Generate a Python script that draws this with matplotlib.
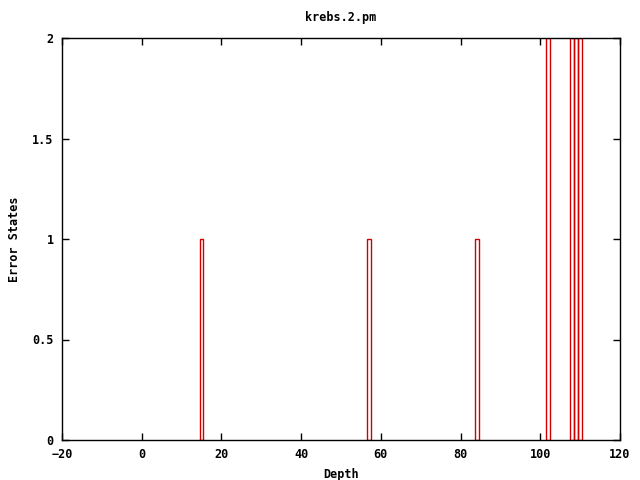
import matplotlib
matplotlib.use("Agg")
import matplotlib.pyplot as plt

# depth values that had error states, and how many
depths = [15, 57, 84, 102, 108, 109, 110]
states = [1, 1, 1, 2, 2, 2, 2]

xticks = [-20, 0, 20, 40, 60, 80, 100, 120]
yticks = [0, 0.5, 1, 1.5, 2]
ytick_labels = ["0", "0.5", "1", "1.5", "2"]

plt.rcParams['font.family'] = ['DejaVu Sans Mono']
plt.rcParams['font.weight'] = 'bold'

fig = plt.figure(figsize=(6.4, 4.8), dpi=100)
ax = fig.add_axes([62 / 640, 1 - 440 / 480, 558 / 640, 402 / 480])

ax.bar(depths, states, width=1.0, fill=False, edgecolor='#d00000', linewidth=1.0)

ax.set_xlim(-20, 120)
ax.set_ylim(0, 2)
ax.set_xticks(xticks)
ax.set_yticks(yticks)
ax.set_yticklabels(ytick_labels)
ax.tick_params(direction='in', length=5, width=1, top=True, right=True,
               labelsize=8.5, pad=6)
for s in ax.spines.values():
    s.set_linewidth(1)

ax.set_title("krebs.2.pm", fontsize=8.5, fontweight='bold', pad=12)
ax.set_xlabel("Depth", fontsize=8.5, fontweight='bold', labelpad=5)
ax.set_ylabel("Error States", fontsize=8.5, fontweight='bold', labelpad=8)

fig.savefig("out.png", dpi=100)
